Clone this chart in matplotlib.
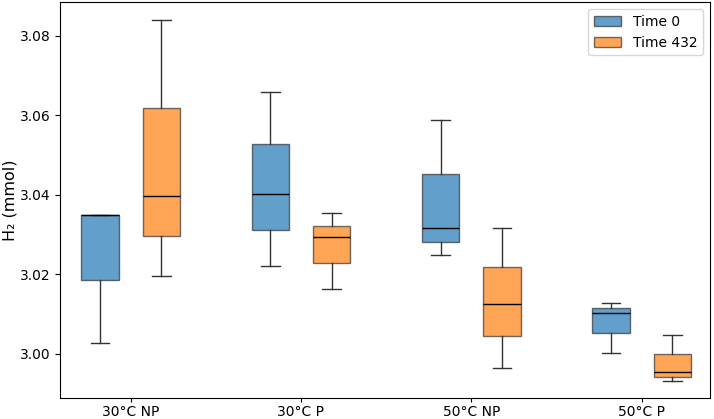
import matplotlib
matplotlib.use('Agg')
import matplotlib.pyplot as plt
from matplotlib.patches import Patch
import numpy as np

groups = ['30°C NP', '30°C P', '50°C NP', '50°C P']
series = ['Time 0', 'Time 432']

# box statistics: min, q1, median, q3, max
t0_min = [3.0026, 3.0220, 3.0248, 3.0001]
t0_q1 = [3.0186, 3.0311, 3.0282, 3.0052]
t0_med = [3.0349, 3.0401, 3.0315, 3.0103]
t0_q3 = [3.0348, 3.0528, 3.0451, 3.0114]
t0_max = [3.0350, 3.0658, 3.0587, 3.0127]

t432_min = [3.0195, 3.0163, 2.9964, 2.9932]
t432_q1 = [3.0296, 3.0228, 3.0044, 2.9942]
t432_med = [3.0397, 3.0293, 3.0124, 2.9954]
t432_q3 = [3.0619, 3.0322, 3.0219, 3.0000]
t432_max = [3.0839, 3.0353, 3.0315, 3.0048]

colors = ['#1f77b4', '#ff7f0e']


def make_stats(mins, q1s, meds, q3s, maxs):
    stats = []
    for lo, a, m, b, hi in zip(mins, q1s, meds, q3s, maxs):
        stats.append({'whislo': lo, 'q1': a, 'med': m, 'q3': b,
                      'whishi': hi, 'fliers': []})
    return stats


fig, ax = plt.subplots(figsize=(7.14, 4.19), dpi=100)
fig.subplots_adjust(left=0.084, right=0.994, top=0.995, bottom=0.05)

x = np.arange(1, len(groups) + 1)
offset = 0.18
width = 0.22

all_stats = [make_stats(t0_min, t0_q1, t0_med, t0_q3, t0_max),
             make_stats(t432_min, t432_q1, t432_med, t432_q3, t432_max)]

for i, stats in enumerate(all_stats):
    pos = x + (-offset if i == 0 else offset)
    bp = ax.bxp(stats, positions=pos, widths=width, patch_artist=True,
                showfliers=False, manage_ticks=False,
                boxprops=dict(linewidth=1.0, edgecolor='#333333'),
                whiskerprops=dict(color='#333333', linewidth=1.0),
                capprops=dict(color='#333333', linewidth=1.0),
                medianprops=dict(color='black', linewidth=1.0))
    for box in bp['boxes']:
        box.set_facecolor(colors[i])
        box.set_alpha(0.7)

ax.set_xticks(x)
ax.set_xticklabels(groups, fontsize=10)
ax.tick_params(axis='x', length=3, pad=2)
ax.set_xlim(0.585, 4.40)
ax.set_ylim(2.9888, 3.0885)
ax.set_yticks([3.00, 3.02, 3.04, 3.06, 3.08])
ax.set_yticklabels(['3.00', '3.02', '3.04', '3.06', '3.08'], fontsize=10)
ax.set_ylabel('H₂ (mmol)', fontsize=11.5)
ax.yaxis.set_label_coords(-0.066, 0.5)

handles = [Patch(facecolor=colors[i], alpha=0.7, edgecolor='#333333', label=series[i])
           for i in range(2)]
ax.legend(handles=handles, loc='upper right', fontsize=10)

fig.savefig('out.png', dpi=100)
